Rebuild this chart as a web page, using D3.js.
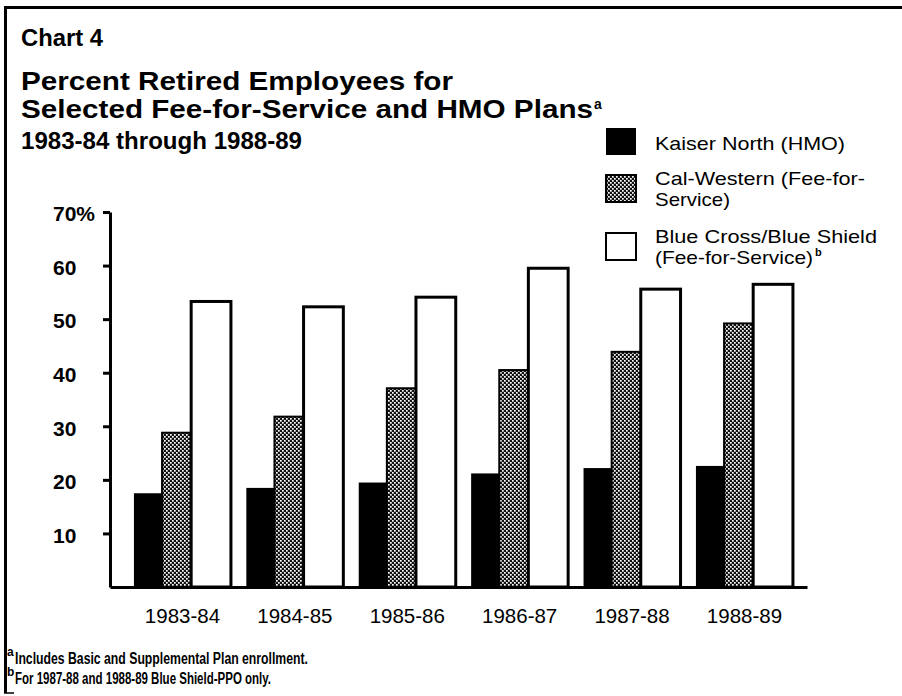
<!DOCTYPE html>
<html>
<head>
<meta charset="utf-8">
<script src="https://cdn.jsdelivr.net/npm/d3@7"></script>
<style>
  html, body { margin: 0; padding: 0; background: #fff; }
  svg { display: block; }
  text { font-family: "Liberation Sans", Arial, Helvetica, sans-serif; fill: #000; }
</style>
</head>
<body>
<div id="chart"></div>
<script>
// ---- data ----
const categories = ["1983-84", "1984-85", "1985-86", "1986-87", "1987-88", "1988-89"];
const seriesKeys = ["kaiser", "calWestern", "blueCross"];
const kaiser     = [17.5, 18.5, 19.5, 21.2, 22.2, 22.6];
const calWestern = [28.8, 31.8, 37.1, 40.5, 43.9, 49.2];
const blueCross  = [53.3, 52.3, 54.1, 59.5, 55.6, 56.5];
const yTicks = [10, 20, 30, 40, 50, 60, 70];
const legendLines = [
  ["Kaiser North (HMO)"],
  ["Cal-Western (Fee-for-", "Service)"],
  ["Blue Cross/Blue Shield", "(Fee-for-Service)"]
];
const titleChart = "Chart 4";
const titleLines = ["Percent Retired Employees for", "Selected Fee-for-Service and HMO Plans"];
const subtitle = "1983-84 through 1988-89";
const footnotes = ["Includes Basic and Supplemental Plan enrollment.", "For 1987-88 and 1988-89 Blue Shield-PPO only."];

const seriesValues = { kaiser, calWestern, blueCross };

// ---- setup ----
const W = 902, H = 696;
const svg = d3.select("#chart").append("svg").attr("width", W).attr("height", H);

const defs = svg.append("defs");
const pat = defs.append("pattern").attr("id", "chk")
  .attr("patternUnits", "userSpaceOnUse").attr("width", 4).attr("height", 4);
pat.append("rect").attr("width", 4).attr("height", 4).attr("fill", "#111");
pat.append("rect").attr("x", 0).attr("y", 0).attr("width", 1.7).attr("height", 1.7).attr("fill", "#fff");
pat.append("rect").attr("x", 2).attr("y", 2).attr("width", 1.7).attr("height", 1.7).attr("fill", "#fff");

const fillOf = d3.scaleOrdinal().domain(seriesKeys).range(["#000", "url(#chk)", "#fff"]);
const strokeW = d3.scaleOrdinal().domain(seriesKeys).range([0, 2, 3]);
const startFrac = d3.scaleOrdinal().domain(seriesKeys).range([0, 0.29, 0.59]);
const endFrac = d3.scaleOrdinal().domain(seriesKeys).range([0.30, 0.60, 1.0]);

// frame
svg.append("path").attr("d", "M5.5,693 L5.5,7.5 L902,7.5")
  .attr("fill", "none").attr("stroke", "#000").attr("stroke-width", 3);
svg.append("path").attr("d", "M4,693 L14,693")
  .attr("fill", "none").attr("stroke", "#000").attr("stroke-width", 1.5);

// titles
svg.append("text").attr("x", 21).attr("y", 46).attr("font-size", 23.5).attr("font-weight", "bold")
  .attr("textLength", 82).attr("lengthAdjust", "spacingAndGlyphs").text(titleChart);
svg.append("text").attr("x", 21).attr("y", 90).attr("font-size", 25).attr("font-weight", "bold")
  .attr("textLength", 432).attr("lengthAdjust", "spacingAndGlyphs").text(titleLines[0]);
svg.append("text").attr("x", 21).attr("y", 118).attr("font-size", 25).attr("font-weight", "bold")
  .attr("textLength", 572).attr("lengthAdjust", "spacingAndGlyphs").text(titleLines[1]);
svg.append("text").attr("x", 594).attr("y", 109).attr("font-size", 14).attr("font-weight", "bold").text("a");
svg.append("text").attr("x", 21).attr("y", 149).attr("font-size", 23.5).attr("font-weight", "bold")
  .attr("textLength", 281).attr("lengthAdjust", "spacingAndGlyphs").text(subtitle);

// scales
const y = d3.scaleLinear().domain([0, 70]).range([587, 212]);
const x = d3.scaleBand().domain(categories).range([110, 807])
  .paddingInner(0.137).paddingOuter(0.169).align(0.63);

// bars
const rows = [];
seriesKeys.forEach(k => categories.forEach((c, i) => rows.push({ k, c, v: seriesValues[k][i] })));

svg.append("g").selectAll("rect").data(rows).join("rect")
  .attr("x", d => x(d.c) + x.bandwidth() * startFrac(d.k))
  .attr("width", d => x.bandwidth() * (endFrac(d.k) - startFrac(d.k)))
  .attr("y", d => y(d.v))
  .attr("height", d => y(0) - y(d.v))
  .attr("fill", d => fillOf(d.k))
  .attr("stroke", "#000")
  .attr("stroke-width", d => strokeW(d.k));

// y axis
const yAxisG = svg.append("g").attr("transform", "translate(110,0)")
  .call(d3.axisLeft(y).tickValues(yTicks).tickSize(7).tickSizeOuter(0)
    .tickFormat(d => d === 70 ? d + "%" : String(d)));
yAxisG.select(".domain").attr("stroke-width", 3);
yAxisG.selectAll(".tick line").attr("stroke-width", 3);
yAxisG.selectAll(".tick text").attr("x", -57).attr("text-anchor", "start").attr("dy", "0.42em")
  .attr("font-size", 21).attr("font-weight", "bold")
  .attr("font-family", "\"Liberation Sans\", Arial, Helvetica, sans-serif");

// x axis
const xAxisG = svg.append("g").attr("transform", "translate(0,587)")
  .call(d3.axisBottom(x).tickSize(0).tickSizeOuter(0).tickPadding(21));
xAxisG.select(".domain").attr("stroke-width", 3);
xAxisG.selectAll(".tick text").attr("font-size", 20.5)
  .attr("font-family", "\"Liberation Sans\", Arial, Helvetica, sans-serif");

// legend
const legY = [128, 175, 233];
const legTextY = [[150], [184.5, 206], [242.5, 264]];
const legWidths = [[190], [210, 75], [222, 158]];
const lg = svg.append("g");
seriesKeys.forEach((k, i) => {
  lg.append("rect").attr("x", 606).attr("y", legY[i]).attr("width", 30).attr("height", 27)
    .attr("fill", fillOf(k)).attr("stroke", "#000").attr("stroke-width", i === 0 ? 0 : 2);
  legendLines[i].forEach((t, j) => {
    lg.append("text").attr("x", 655).attr("y", legTextY[i][j]).attr("font-size", 19)
      .attr("textLength", legWidths[i][j]).attr("lengthAdjust", "spacingAndGlyphs").text(t);
  });
});
lg.append("text").attr("x", 815).attr("y", 256).attr("font-size", 11).attr("font-weight", "bold").text("b");

// footnotes
svg.append("text").attr("x", 7).attr("y", 656).attr("font-size", 12).attr("font-weight", "bold").text("a");
svg.append("text").attr("x", 15).attr("y", 664).attr("font-size", 16).attr("font-weight", "bold")
  .attr("textLength", 293).attr("lengthAdjust", "spacingAndGlyphs").text(footnotes[0]);
svg.append("text").attr("x", 7).attr("y", 676).attr("font-size", 12).attr("font-weight", "bold").text("b");
svg.append("text").attr("x", 15).attr("y", 684).attr("font-size", 16).attr("font-weight", "bold")
  .attr("textLength", 256).attr("lengthAdjust", "spacingAndGlyphs").text(footnotes[1]);
</script>
</body>
</html>
